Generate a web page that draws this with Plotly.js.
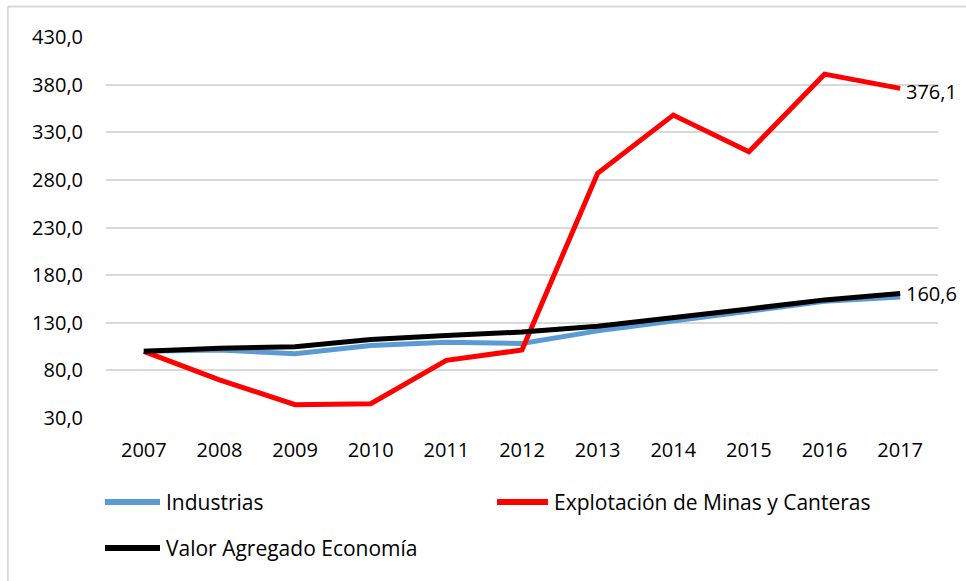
<!DOCTYPE html>
<html>
<head>
<meta charset="utf-8">
<script src="https://cdn.plot.ly/plotly-3.0.1.min.js"></script>
<style>html,body{margin:0;padding:0;background:#fff;}#chart{width:966px;height:581px;}</style>
</head>
<body>
<div id="chart"></div>
<script>
const years = ['2007','2008','2009','2010','2011','2012','2013','2014','2015','2016','2017'];
const seriesNames = ['Industrias', 'Explotación de Minas y Canteras', 'Valor Agregado Economía'];
const industrias = [100.0, 101.4, 97.5, 106.0, 109.5, 108.3, 121.5, 132.0, 141.5, 152.5, 157.0];
const minas = [100.0, 70.0, 44.0, 45.0, 90.5, 101.4, 287.0, 348.0, 309.5, 391.0, 376.1];
const valorAgregado = [100.0, 103.3, 104.8, 112.5, 116.5, 120.3, 126.3, 136.0, 144.5, 154.0, 160.6];
const yTicks = [30, 80, 130, 180, 230, 280, 330, 380, 430];
const colors = ['#5B9BD5', '#FF0000', '#000000'];

const FONT = '"Open Sans", "Liberation Sans", sans-serif';
const fmt = v => v.toFixed(1).replace('.', ',');
const last = arr => arr[arr.length - 1];

const traces = [
  {x: years, y: industrias, name: seriesNames[0], mode: 'lines', line: {color: colors[0], width: 5}},
  {x: years, y: minas, name: seriesNames[1], mode: 'lines', line: {color: colors[1], width: 5}},
  {x: years, y: valorAgregado, name: seriesNames[2], mode: 'lines', line: {color: colors[2], width: 5}}
];

// Manual legend positions (paper coords)
const legendPos = [
  {x0: -0.0012, x1: 0.0649, y: -0.2205},
  {x0: 0.4700, x1: 0.5313, y: -0.2205},
  {x0: -0.0012, x1: 0.0649, y: -0.3412}
];
const shapes = legendPos.map((p, i) => ({
  type: 'line', xref: 'paper', yref: 'paper', x0: p.x0, x1: p.x1, y0: p.y, y1: p.y,
  line: {color: colors[i], width: 6}
}));
shapes.push({type: 'line', xref: 'paper', yref: 'paper', x0: -0.118, x1: 1.1, y0: 1.08, y1: 1.08, line: {color: '#d9d9d9', width: 2}});
shapes.push({type: 'line', xref: 'paper', yref: 'paper', x0: -0.118, x1: -0.118, y0: 1.08, y1: -0.45, line: {color: '#d9d9d9', width: 2}});

const annotations = legendPos.map((p, i) => ({
  xref: 'paper', yref: 'paper', x: p.x1 + 0.005, y: p.y, xanchor: 'left', yanchor: 'middle',
  text: seriesNames[i], showarrow: false, font: {family: FONT, size: 21, color: '#000'}
}));
// End-of-line value labels (category axis: position by index)
const lastIdx = years.length - 1;
[minas, valorAgregado].forEach((arr, k) => {
  annotations.push({
    xref: 'x', yref: 'y', x: lastIdx, y: last(arr), xanchor: 'left', yanchor: 'middle',
    xshift: 4, yshift: k === 0 ? -3 : 0,
    text: fmt(last(arr)), showarrow: false, font: {family: FONT, size: 20, color: '#000'}
  });
});

const layout = {
  width: 966, height: 581,
  margin: {l: 106, r: 28, t: 37, b: 163},
  paper_bgcolor: '#ffffff', plot_bgcolor: '#ffffff',
  separators: ', ',
  showlegend: false,
  font: {family: FONT, size: 20, color: '#000'},
  xaxis: {
    type: 'category', range: [-0.5, 10.5], showgrid: false, zeroline: false, showline: false,
    ticks: 'outside', ticklen: 14, tickcolor: 'rgba(0,0,0,0)',
    tickfont: {family: FONT, size: 20, color: '#000'}
  },
  yaxis: {
    range: [30, 430], tickvals: yTicks, ticktext: yTicks.map(fmt),
    showgrid: true, gridcolor: '#d9d9d9', gridwidth: 2, zeroline: false, showline: false,
    ticks: 'outside', ticklen: 18, tickcolor: 'rgba(0,0,0,0)',
    tickfont: {family: FONT, size: 20, color: '#000'}
  },
  shapes: shapes,
  annotations: annotations
};

Plotly.newPlot('chart', traces, layout, {displayModeBar: false, staticPlot: true});
</script>
</body>
</html>
